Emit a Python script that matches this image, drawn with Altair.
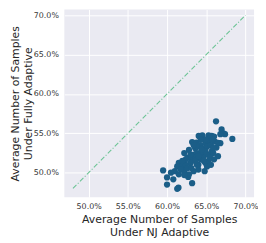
import altair as alt
import pandas as pd

nj = [66.25, 68.33, 66.96, 67.2, 67.4, 66.8, 64.04, 64.5, 65.3, 65.7, 66.0, 65.5, 63.2, 63.75,
      66.8, 66.3, 64.25, 64.9, 65.3, 62.8, 62.2, 63.6, 64.5, 65.1, 65.6, 66.5, 65.3, 64.9, 64.8,
      64.0, 63.2, 63.4, 63.8, 62.6, 61.5, 61.3, 61.96, 62.2, 62.7, 63.2, 59.5, 60.0, 60.8, 60.0,
      61.46, 61.3, 62.8, 63.4, 64.0, 64.25, 64.7, 65.3, 65.7, 65.9, 64.9, 64.25, 63.6, 63.0, 62.4,
      61.75, 62.6, 63.1, 63.8, 66.1, 66.5, 65.75, 64.9, 64.3, 65.9, 65.5, 66.0, 64.7, 63.6, 63.0,
      62.4, 61.96, 61.0, 60.5, 61.5, 62.2, 63.8, 63.4, 64.4, 64.0, 65.1, 65.6]
full = [56.54, 54.29, 55.5, 55.0, 54.9, 54.9, 54.67, 54.75, 54.75, 54.67, 54.6, 54.4, 53.9, 53.83,
        53.75, 53.2, 53.5, 53.75, 53.96, 52.9, 52.5, 53.1, 53.1, 53.3, 53.5, 52.1, 51.5, 51.25, 50.2,
        51.0, 51.7, 52.3, 52.5, 51.9, 51.25, 50.8, 50.8, 50.2, 49.46, 48.67, 50.3, 49.4, 49.17, 48.5,
        48.1, 47.96, 49.8, 50.2, 50.4, 51.7, 52.1, 52.3, 52.7, 53.1, 52.7, 52.5, 51.9, 51.25, 51.0,
        50.4, 50.6, 50.6, 51.0, 53.96, 53.8, 54.2, 54.25, 54.2, 52.5, 51.9, 51.7, 51.5, 51.5, 52.3,
        51.7, 51.5, 50.2, 50.0, 49.8, 49.7, 53.3, 53.5, 52.9, 52.1, 50.8, 51.0]
line_ends = [48.0, 70.0]
ticks = [50.0, 55.0, 60.0, 65.0, 70.0]

pts = pd.DataFrame({"x": [v / 100 for v in nj], "y": [v / 100 for v in full]})
ln = pd.DataFrame({"x": [v / 100 for v in line_ends], "y": [v / 100 for v in line_ends]})
tv = [t / 100 for t in ticks]

xs = alt.Scale(domain=[0.469, 0.711], nice=False, zero=False)
ys = alt.Scale(domain=[0.469, 0.7075], nice=False, zero=False)

axis_common = dict(format=".1%", values=tv, domain=False, ticks=False, gridColor="white",
                   gridWidth=1, labelFont="DejaVu Sans", labelFontSize=8, labelColor="#333333",
                   titleFont="DejaVu Sans", titleFontSize=11, titleFontWeight="normal",
                   titleColor="#262626", titleLineHeight=12.5)

xa = alt.Axis(title=["Average Number of Samples", "Under NJ Adaptive"], labelPadding=6,
              titlePadding=3, **axis_common)
ya = alt.Axis(title=["Average Number of Samples", "Under Fully Adaptive"], labelPadding=6,
              titlePadding=0, **axis_common)

line = alt.Chart(ln).mark_line(color="#6cc495", strokeWidth=1.1, strokeDash=[5, 2, 1, 2]).encode(
    x=alt.X("x:Q", scale=xs, axis=xa), y=alt.Y("y:Q", scale=ys, axis=ya))
dots = alt.Chart(pts).mark_circle(color="#1b5e88", opacity=1, size=40).encode(
    x=alt.X("x:Q", scale=xs), y=alt.Y("y:Q", scale=ys))

chart = (line + dots).properties(
    width=192, height=190,
    padding={"left": 57, "top": 0, "right": 4, "bottom": 45},
    autosize=alt.AutoSizeParams(type="none"),
).configure_view(fill="#EAEAF2", stroke=None)

chart.save("out.html", embed_options={"renderer": "svg", "actions": False})
